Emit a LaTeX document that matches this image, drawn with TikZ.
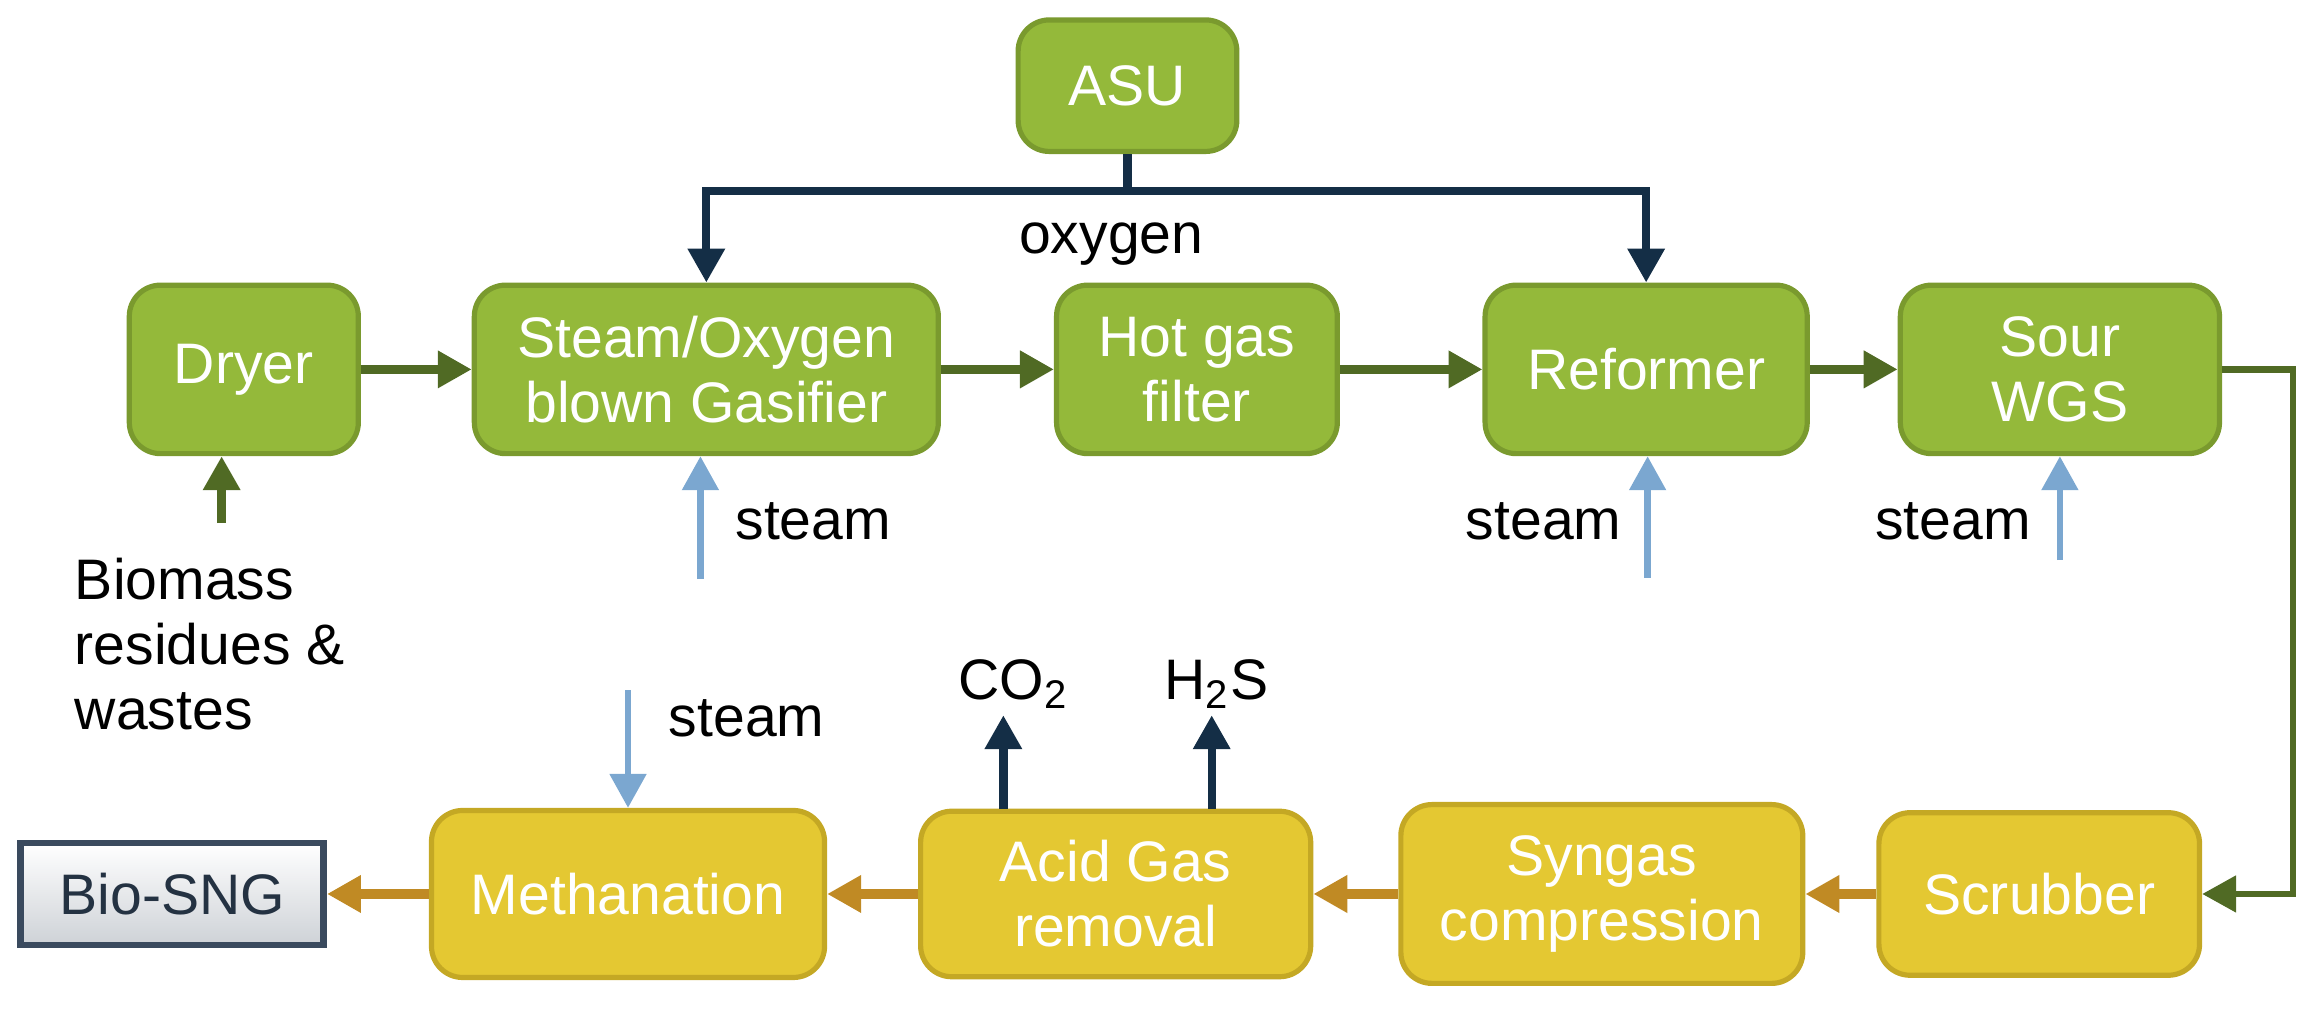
\documentclass[tikz,border=0pt]{standalone}
\usepackage{fontspec}
\setmainfont{Liberation Sans}
\usetikzlibrary{arrows.meta}
\usetikzlibrary{positioning}
\definecolor{mgreen}{RGB}{148,185,58}
\definecolor{mgreenline}{RGB}{122,154,46}
\definecolor{dgreen}{RGB}{80,106,36}
\definecolor{mnavy}{RGB}{20,46,70}
\definecolor{sblue}{RGB}{123,167,208}
\definecolor{myellow}{RGB}{228,200,50}
\definecolor{myellowline}{RGB}{196,168,36}
\definecolor{morange}{RGB}{192,138,36}
\definecolor{sngline}{RGB}{58,74,94}
\definecolor{sngtext}{RGB}{36,50,66}
\tikzset{unit/.style = {draw=mgreenline, fill=mgreen, line width=1pt,
                        rounded corners=6pt, text=white, align=center,
                        inner sep=0pt, font=\fontsize{11}{12.5}\selectfont},
         cleanup/.style = {unit, draw=myellowline, fill=myellow},
         product/.style = {draw=sngline, line width=1.3pt, top color=white,
                           bottom color=sngline!25, text=sngtext,
                           inner sep=0pt, font=\fontsize{11}{12.5}\selectfont},
         tag/.style = {inner sep=0pt, font=\fontsize{11}{12.5}\selectfont},
         head/.style = {-{Triangle[length=0.23cm, width=0.24cm]}},
         feed/.style = {head, dgreen, line width=1.8pt},
         oxy/.style = {head, mnavy, line width=1.6pt},
         steamin/.style = {head, sblue, line width=1.3pt},
         gasout/.style = {head, morange, line width=1.8pt}}

\begin{document}
\begin{tikzpicture}
    \useasboundingbox (0, 0) rectangle (15.68, 6.85);

    % upper row
    \node [unit, minimum width=1.48cm, minimum height=0.89cm] (asu) at (7.63, 6.27) {ASU};
    \node [unit, minimum width=1.55cm, minimum height=1.14cm] (dryer) at (1.65, 4.35) {Dryer};
    \node [unit, minimum width=3.14cm, minimum height=1.14cm] (gasif) at (4.78, 4.35) {Steam/Oxygen\\blown Gasifier};
    \node [unit, minimum width=1.90cm, minimum height=1.14cm] (filter) at (8.10, 4.35) {Hot gas\\filter};
    \node [unit, minimum width=2.18cm, minimum height=1.14cm] (reform) at (11.14, 4.35) {Reformer};
    \node [unit, minimum width=2.16cm, minimum height=1.14cm] (wgs) at (13.94, 4.35) {Sour\\WGS};

    % lower row
    \node [cleanup, minimum width=2.17cm, minimum height=1.10cm] (scrub) at (13.80, 0.80) {Scrubber};
    \node [cleanup, minimum width=2.72cm, minimum height=1.21cm] (comp) at (10.84, 0.80) {Syngas\\compression};
    \node [cleanup, minimum width=2.64cm, minimum height=1.12cm] (agr) at (7.55, 0.80) {Acid Gas\\removal};
    \node [cleanup, minimum width=2.66cm, minimum height=1.13cm] (meth) at (4.25, 0.80) {Methanation};
    \node [product, minimum width=2.05cm, minimum height=0.69cm] (sng) at (1.165, 0.80) {Bio-SNG};

    % labels
    \node [tag] (oxlab) at (7.52, 5.20) {oxygen};
    \node [tag, anchor=north west, align=left] (biolab) at (0.50, 3.08) {Biomass\\residues \&\\wastes};
    \node [tag] (co2lab) at (6.86, 2.22) {CO\textsubscript{2}};
    \node [tag] (h2slab) at (8.23, 2.22) {H\textsubscript{2}S};

    \coordinate (bio) at (1.50, 3.31);
    \coordinate (s1) at (4.74, 2.93);
    \coordinate (s2) at (11.15, 2.94);
    \coordinate (s3) at (13.94, 3.06);
    \coordinate (s4) at (4.25, 2.18);
    \coordinate (co2) at (6.79, 2.01);
    \coordinate (h2s) at (8.20, 2.01);

    \node [tag, anchor=west] at (4.97, 3.32) {steam};
    \node [tag, anchor=east] at (10.98, 3.32) {steam};
    \node [tag, anchor=east] at (13.75, 3.32) {steam};
    \node [tag, anchor=west] at (4.52, 1.99) {steam};

    % flows
    \draw [feed] (dryer) -- (gasif);
    \draw [feed] (gasif) -- (filter);
    \draw [feed] (filter) -- (reform);
    \draw [feed] (reform) -- (wgs);
    \draw [feed] (bio) -- (bio |- dryer.south);
    \draw [feed, line width=1.3pt] (wgs.east) -- ++(0.48, 0) |- (scrub.east);

    \draw [oxy] (asu.south) -- ++(0, -0.25) -| (gasif.north);
    \draw [oxy] (asu.south) -- ++(0, -0.25) -| (reform.north);

    \draw [steamin] (s1) -- (s1 |- gasif.south);
    \draw [steamin] (s2) -- (s2 |- reform.south);
    \draw [steamin] (s3) -- (s3 |- wgs.south);
    \draw [steamin] (s4) -- (meth.north);

    \draw [gasout] (scrub) -- (comp);
    \draw [gasout] (comp) -- (agr);
    \draw [gasout] (agr) -- (meth);
    \draw [gasout] (meth) -- (sng);

    \draw [oxy] (co2 |- agr.north) -- (co2);
    \draw [oxy] (h2s |- agr.north) -- (h2s);
\end{tikzpicture}
\end{document}
